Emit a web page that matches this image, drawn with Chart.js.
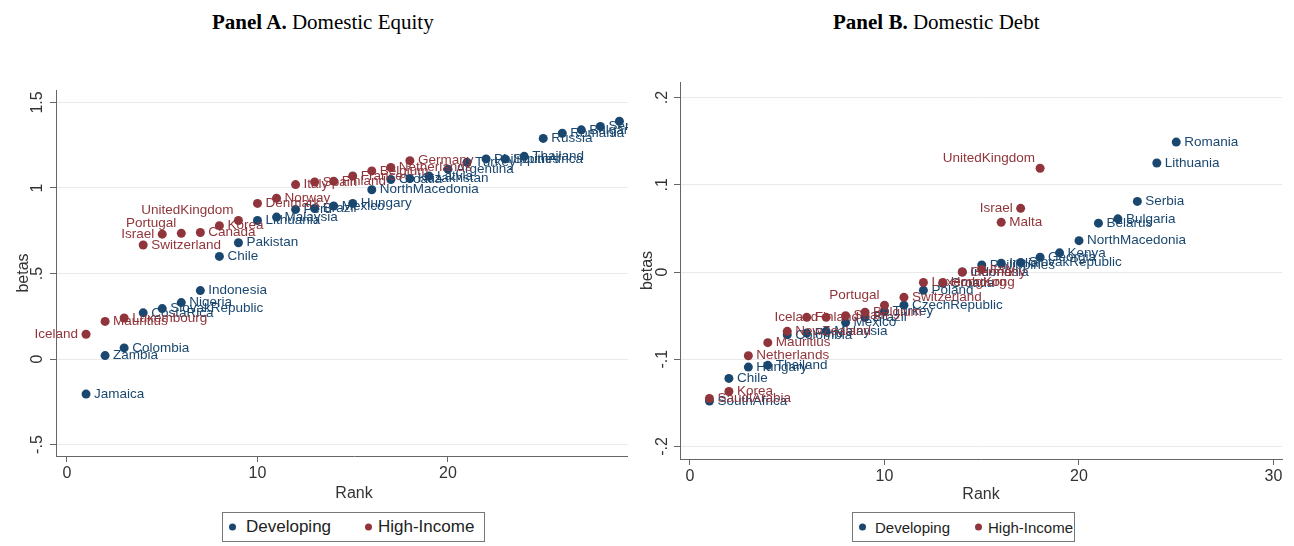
<!DOCTYPE html>
<html>
<head>
<meta charset="utf-8">
<script src="https://cdn.jsdelivr.net/npm/chart.js@4"></script>
<style>
  body { margin: 0; background: #fff; }
  #page { position: relative; width: 1294px; height: 546px; overflow: hidden; font-family: Arial, "Liberation Sans", sans-serif; }
  .ttl { position: absolute; top: 10px; line-height: 24px; font-family: "Times New Roman", "Liberation Serif", serif; font-size: 21px; color: #000; white-space: nowrap; }
  .box { position: absolute; top: 0; height: 510px; overflow: hidden; }
  .lgd { position: absolute; top: 512px; height: 30px; border: 1px solid #777; box-sizing: border-box; color: #222; }
  .lgd span { position: absolute; top: 50%; transform: translateY(-50%); white-space: nowrap; }
  .lgd .dot { width: 7px; height: 7px; border-radius: 50%; }
</style>
</head>
<body>
<div id="page">
  <div class="ttl" style="left:212px"><b>Panel A.</b> Domestic Equity</div>
  <div class="ttl" style="left:833px"><b>Panel B.</b> Domestic Debt</div>

  <div class="box" style="left:0; width:628px;"><canvas id="chartA" width="660" height="510"></canvas></div>
  <div class="box" style="left:628px; width:666px;"><canvas id="chartB" width="666" height="510"></canvas></div>

  <div class="lgd" style="left:222px; width:263px; font-size:17px;">
    <span class="dot" style="left:6px; background:#1a476f"></span><span style="left:23px">Developing</span>
    <span class="dot" style="left:142px; background:#90353b"></span><span style="left:155px">High-Income</span>
  </div>
  <div class="lgd" style="left:852px; width:223px; font-size:15px;">
    <span class="dot" style="left:6px; background:#1a476f"></span><span style="left:22px">Developing</span>
    <span class="dot" style="left:122px; background:#90353b"></span><span style="left:135px">High-Income</span>
  </div>
</div>

<script>
// Panel A: Domestic Equity
const rankDevA = [1, 2, 3, 4, 5, 6, 7, 8, 9, 10, 11, 12, 13, 14, 15, 16, 17, 18, 19, 20, 21, 22, 23, 24, 25, 26, 27, 28, 29];
const betaDevA = [-0.205, 0.020, 0.065, 0.270, 0.295, 0.330, 0.400, 0.600, 0.680, 0.810, 0.830, 0.875, 0.880, 0.895, 0.910,
                  0.990, 1.050, 1.055, 1.070, 1.110, 1.150, 1.170, 1.170, 1.185, 1.290, 1.320, 1.340, 1.360, 1.390];
const nameDevA = ['Jamaica', 'Zambia', 'Colombia', 'CostaRica', 'SlovakRepublic', 'Nigeria', 'Indonesia', 'Chile', 'Pakistan',
                  'Lithuania', 'Malaysia', 'Peru', 'Brazil', 'Mexico', 'Hungary', 'NorthMacedonia', 'Croatia', 'Kazakhstan',
                  'Latvia', 'Argentina', 'Turkey', 'Philippines', 'SouthAfrica', 'Thailand', 'Russia', 'Romania', 'Bulgaria',
                  'Serbia', 'Kenya'];

const rankHiA = [1, 2, 3, 4, 5, 6, 7, 8, 9, 10, 11, 12, 13, 14, 15, 16, 17, 18];
const betaHiA = [0.145, 0.220, 0.240, 0.667, 0.730, 0.735, 0.740, 0.780, 0.810, 0.910, 0.940, 1.020, 1.035, 1.040,
                 1.070, 1.100, 1.120, 1.160];
const nameHiA = ['Iceland', 'Mauritius', 'Luxembourg', 'Switzerland', 'Israel', 'Portugal', 'Canada', 'Korea',
                 'UnitedKingdom', 'Denmark', 'Norway', 'Italy', 'Spain', 'Finland', 'France', 'Belgium', 'Netherlands', 'Germany'];

const xTicksA = [0, 10, 20, 30];
const yTicksA = [-0.5, 0, 0.5, 1, 1.5];

// Panel B: Domestic Debt
const rankDevB = [1, 2, 3, 4, 5, 6, 7, 8, 9, 10, 11, 12, 13, 14, 15, 16, 17, 18, 19, 20, 21, 22, 23, 24, 25];
const betaDevB = [-0.148, -0.122, -0.109, -0.107, -0.072, -0.070, -0.068, -0.058, -0.052, -0.045, -0.038, -0.021, -0.013,
                  0.000, 0.008, 0.010, 0.011, 0.017, 0.022, 0.036, 0.056, 0.061, 0.081, 0.125, 0.149];
const nameDevB = ['SouthAfrica', 'Chile', 'Hungary', 'Thailand', 'Colombia', 'Peru', 'Malaysia', 'Mexico', 'Brazil', 'Turkey',
                  'CzechRepublic', 'Poland', 'Croatia', 'Indonesia', 'Philippines', 'India', 'SlovakRepublic', 'Georgia',
                  'Kenya', 'NorthMacedonia', 'Belarus', 'Bulgaria', 'Serbia', 'Lithuania', 'Romania'];

const rankHiB = [1, 2, 3, 4, 5, 6, 7, 8, 9, 10, 11, 12, 13, 14, 15, 16, 17, 18];
const betaHiB = [-0.145, -0.137, -0.096, -0.081, -0.068, -0.052, -0.052, -0.050, -0.046, -0.038, -0.029, -0.012, -0.012,
                 0.000, 0.003, 0.057, 0.073, 0.119];
const nameHiB = ['SaudiArabia', 'Korea', 'Netherlands', 'Mauritius', 'NewZealand', 'Finland', 'Iceland', 'Spain', 'Belgium',
                 'Portugal', 'Switzerland', 'Luxembourg', 'HongKong', 'Germany', 'Italy', 'Malta', 'Israel', 'UnitedKingdom'];

const xTicksB = [0, 10, 20, 30];
const yTicksB = [-0.2, -0.1, 0, 0.1, 0.2];

// ラベル位置（既定は右側）
const labelPlace = { Iceland: 'l', Israel: 'l', Portugal: 'ul', UnitedKingdom: 'ul' };

const NAVY = '#1a476f';
const MAROON = '#90353b';
const AXIS = '#666';
const GRID = '#e9e9e9';
const FONT = 'Arial, "Liberation Sans", sans-serif';

Chart.defaults.font.family = FONT;
Chart.defaults.color = '#333';

// マーカーラベル描画
const markerLabels = {
  id: 'markerLabels',
  afterDatasetDraw(chart, args) {
    const ds = chart.data.datasets[args.index];
    const ctx = chart.ctx;
    ctx.save();
    ctx.font = '13.5px ' + FONT;
    ctx.fillStyle = ds.labelColor;
    ctx.textBaseline = 'middle';
    args.meta.data.forEach((pt, i) => {
      const name = ds.names[i];
      const pos = labelPlace[name] || 'r';
      let x = pt.x, y = pt.y;
      if (pos === 'r') { ctx.textAlign = 'left'; x += 8; }
      else if (pos === 'l') { ctx.textAlign = 'right'; x -= 8; }
      else { ctx.textAlign = 'right'; x -= 5; y -= 10; }
      ctx.fillText(name, x, y);
    });
    ctx.restore();
  }
};

const stataNum = v => String(v).replace(/^(-?)0\./, '$1.');
const toPoints = (xs, ys) => xs.map((x, i) => ({ x: x, y: ys[i] }));

function makeChart(id, c) {
  return new Chart(document.getElementById(id), {
    type: 'scatter',
    data: {
      datasets: [
        { label: 'Developing', data: toPoints(c.devRank, c.devBeta), names: c.devName,
          backgroundColor: NAVY, labelColor: NAVY, order: 1 },
        { label: 'High-Income', data: toPoints(c.hiRank, c.hiBeta), names: c.hiName,
          backgroundColor: MAROON, labelColor: MAROON, order: 0 }
      ]
    },
    options: {
      responsive: false,
      animation: false,
      events: [],
      layout: { padding: { top: c.top, right: c.right, left: 0, bottom: 0 } },
      elements: { point: { radius: 4.5, hoverRadius: 4.5, borderWidth: 0 } },
      plugins: { legend: { display: false }, tooltip: { enabled: false } },
      scales: {
        x: {
          type: 'linear', min: c.xMin, max: c.xMax,
          afterBuildTicks: s => { s.ticks = c.xTicks.map(v => ({ value: v })); },
          afterFit: s => { s.height = c.xH; },
          grid: { drawOnChartArea: false, tickLength: 6, tickColor: AXIS },
          border: { color: AXIS },
          ticks: { font: { size: 16 }, padding: 2, maxRotation: 0, autoSkip: false },
          title: { display: true, text: 'Rank', font: { size: 16 }, padding: { top: 0, bottom: c.rankPad } }
        },
        y: {
          type: 'linear', min: c.yMin, max: c.yMax,
          afterBuildTicks: s => { s.ticks = c.yTicks.map(v => ({ value: v })); },
          afterFit: s => { s.width = c.yW; },
          grid: { color: GRID, tickLength: 6, tickColor: AXIS },
          border: { color: AXIS },
          ticks: { font: { size: 16 }, minRotation: 90, maxRotation: 90, crossAlign: 'center',
                   padding: c.yPad, autoSkip: false, callback: stataNum },
          title: { display: true, text: 'betas', font: { size: 16 }, padding: { top: c.betasPad, bottom: 0 } }
        }
      }
    },
    plugins: [markerLabels]
  });
}

makeChart('chartA', {
  devRank: rankDevA, devBeta: betaDevA, devName: nameDevA,
  hiRank: rankHiA, hiBeta: betaHiA, hiName: nameHiA,
  xTicks: xTicksA, yTicks: yTicksA,
  xMin: -0.577, xMax: 30.71, yMin: -0.567, yMax: 1.573,
  top: 90, right: 8, xH: 54, yW: 56, yPad: 1, rankPad: 7, betasPad: 14
});

makeChart('chartB', {
  devRank: rankDevB, devBeta: betaDevB, devName: nameDevB,
  hiRank: rankHiB, hiBeta: betaHiB, hiName: nameHiB,
  xTicks: xTicksB, yTicks: yTicksB,
  xMin: -0.514, xMax: 30.437, yMin: -0.2144, yMax: 0.2179,
  top: 82, right: 12, xH: 51, yW: 52, yPad: 1.7, rankPad: 5.5, betasPad: 10
});
</script>
</body>
</html>
